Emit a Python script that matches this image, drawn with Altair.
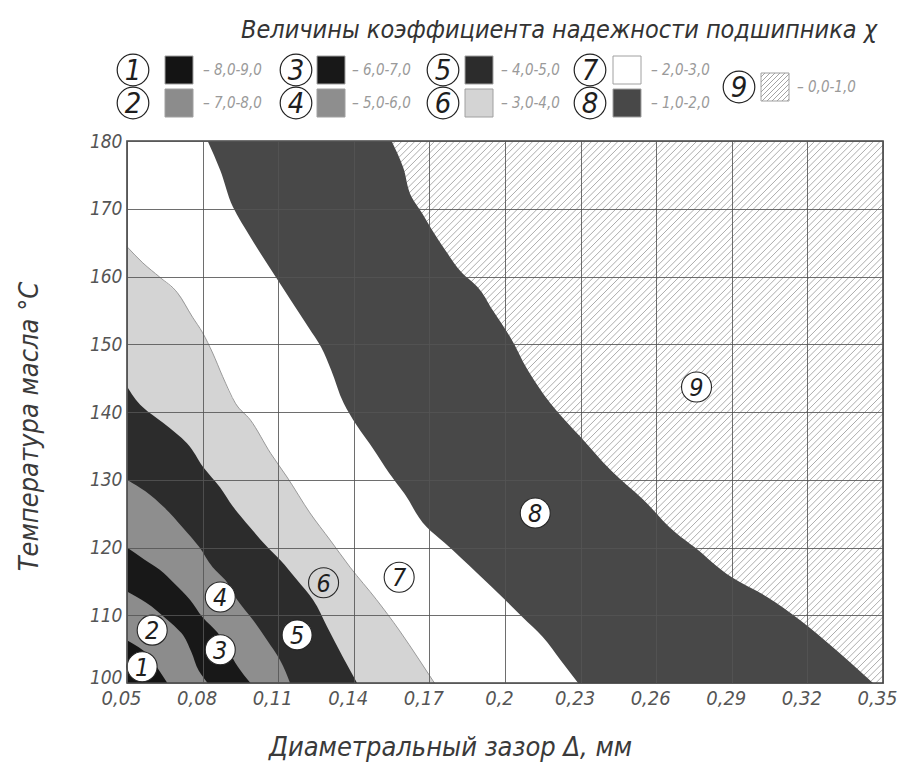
import altair as alt
import pandas as pd

# ------------------------------------------------------------------ data
CLEARANCE_TICKS = [0.05, 0.08, 0.11, 0.14, 0.17, 0.2, 0.23, 0.26, 0.29, 0.32, 0.35]
TEMP_TICKS = [100, 110, 120, 130, 140, 150, 160, 170, 180]

ZONE_IDS = [1, 2, 3, 4, 5, 6, 7, 8, 9]
ZONE_RANGES = ["8,0-9,0", "7,0-8,0", "6,0-7,0", "5,0-6,0", "4,0-5,0",
               "3,0-4,0", "2,0-3,0", "1,0-2,0", "0,0-1,0"]
ZONE_COLORS = ["#141414", "#8c8c8c", "#181818", "#8e8e8e", "#2c2c2c",
               "#d4d4d4", "#ffffff", "#484848", "#ffffff"]

# boundary between zone k and zone k+1 : temperature (°C) -> clearance (mm)
B12_T = [100, 102.0, 104.2, 106.3]
B12_X = [0.066, 0.0625, 0.0585, 0.05]

B23_T = [100, 101.8, 104.6, 107.4, 109.5, 111.9, 113.5]
B23_X = [0.082, 0.0785, 0.0755, 0.0715, 0.0655, 0.0575, 0.05]

B34_T = [100, 102.4, 105.0, 107.4, 109.7, 112.3, 114.8, 116.7, 118.2, 120.0]
B34_X = [0.099, 0.094, 0.090, 0.086, 0.080, 0.075, 0.0685, 0.063, 0.057, 0.05]

B45_T = [100, 103.4, 106.3, 109.3, 112.3, 115.2, 117.1, 120.1, 123.0, 126.0, 128.3, 130.0]
B45_X = [0.1147, 0.1107, 0.1056, 0.1000, 0.0937, 0.0890, 0.0840, 0.0786, 0.0720,
         0.0645, 0.0573, 0.05]

B56_T = [100, 103.8, 108.3, 112.3, 115.2, 118.2, 120.1, 123.0, 126.0, 128.9, 131.9,
         135.4, 138.4, 140.7, 143.8]
B56_X = [0.1413, 0.1357, 0.1294, 0.1238, 0.1175, 0.1107, 0.1056, 0.0988, 0.0921,
         0.0869, 0.0802, 0.0738, 0.0643, 0.0563, 0.05]

B67_T = [100, 103.4, 107.8, 112.3, 117.1, 121.1, 125.1, 130.4, 133.9, 138.8, 141.3,
         145.2, 148.7, 151.7, 154.0, 157.6, 159.9, 162.0, 164.4]
B67_X = [0.172, 0.166, 0.158, 0.149, 0.1385, 0.1306, 0.1226, 0.1135, 0.107, 0.099,
         0.093, 0.088, 0.084, 0.080, 0.076, 0.070, 0.063, 0.0563, 0.05]

B78_T = [100, 103.4, 106.8, 109.7, 112.3, 116.2, 120.7, 123.0, 128.0, 131.0, 134.4,
         138.1, 141.3, 146.2, 149.6, 152.5, 156.5, 160.5, 165.8, 170.3, 175.7, 180]
B78_X = [0.229, 0.222, 0.215, 0.207, 0.200, 0.189, 0.176, 0.169, 0.160, 0.154, 0.148,
         0.141, 0.136, 0.131, 0.127, 0.122, 0.115, 0.108, 0.099, 0.092, 0.087, 0.082]

B89_T = [100, 105.3, 109.3, 112.7, 115.6, 120.1, 122.1, 127.0, 131.4, 136.3, 141.3,
         146.2, 151.1, 155.1, 158.5, 160.5, 163.5, 166.9, 169.4, 171.7, 176.2, 180]
B89_X = [0.346, 0.330, 0.317, 0.304, 0.290, 0.275, 0.268, 0.255, 0.242, 0.230, 0.218,
         0.209, 0.202, 0.195, 0.189, 0.183, 0.177, 0.171, 0.167, 0.163, 0.1595, 0.155]

# zone number markers inside the plot
MARK_X = [0.056, 0.060, 0.087, 0.087, 0.1175, 0.128, 0.158, 0.212, 0.276]
MARK_T = [102.4, 107.8, 104.9, 112.7, 107.1, 114.8, 115.6, 125.1, 143.7]

TITLE = "Величины коэффициента надежности подшипника χ"
X_TITLE = "Диаметральный зазор Δ, мм"
Y_TITLE = "Температура масла °C"

# ------------------------------------------------------------------ layout / style
W, H = 756, 542
FONT = "'Liberation Sans Narrow', 'DejaVu Sans Condensed', 'Roboto Condensed', 'Liberation Sans', sans-serif"
XMIN, XMAX, TMIN, TMAX = 0.05, 0.35, 100, 180

xs = alt.Scale(domain=[XMIN, XMAX], nice=False, zero=False)
ys = alt.Scale(domain=[TMIN, TMAX], nice=False, zero=False)

X_AXIS = alt.Axis(
    values=CLEARANCE_TICKS, grid=True, gridColor="#555555", gridWidth=1,
    gridOpacity=0.85, domain=False, ticks=False, zindex=1,
    labelExpr="replace(format(datum.value, '.2~f'), '.', ',')",
    labelFont=FONT, labelFontStyle="italic", labelFontSize=20, labelColor="#555555",
    labelPadding=5, labelOffset=-6, labelFlush=False, labelOverlap=False, labelBound=False,
    title=X_TITLE, titleFont=FONT, titleFontStyle="italic", titleFontWeight="normal",
    titleFontSize=27, titleColor="#3a3a3a", titleX=323, titleY=72,
    titleAnchor="middle", titleAlign="center", titleBaseline="alphabetic")
Y_AXIS = alt.Axis(
    values=TEMP_TICKS, grid=True, gridColor="#555555", gridWidth=1,
    gridOpacity=0.85, domain=False, ticks=False, zindex=1,
    labelFont=FONT, labelFontStyle="italic", labelFontSize=19, labelColor="#555555",
    labelPadding=5, labelFlush=False, labelOverlap=False, labelBound=False,
    labelBaseline={"condition": {"test": "datum.value <= 100", "value": "alphabetic"},
                   "value": "middle"},
    title=Y_TITLE, titleFont=FONT, titleFontStyle="italic", titleFontWeight="normal",
    titleFontSize=27, titleColor="#3a3a3a", titleX=-98, titleY=285,
    titleAngle=270, titleAlign="center", titleBaseline="middle")


def xe(field):
    return alt.X(field, scale=xs, axis=X_AXIS)


def ye(field):
    return alt.Y(field, scale=ys, axis=Y_AXIS)


boundaries = {1: (B12_T, B12_X), 2: (B23_T, B23_X), 3: (B34_T, B34_X),
              4: (B45_T, B45_X), 5: (B56_T, B56_X), 6: (B67_T, B67_X),
              7: (B78_T, B78_X), 8: (B89_T, B89_X)}

layers = []

# hatching of zone 9 (45 degree lines over the whole frame, covered by the zones)
slope = (H / W) * (XMAX - XMIN)
step = 0.0026
hatch_rows = []
x0 = XMIN - slope
while x0 < XMAX:
    hatch_rows.append({"xa": x0, "ta": TMIN, "xb": x0 + slope, "tb": TMAX})
    x0 += step
hatch = alt.Chart(pd.DataFrame(hatch_rows)).mark_rule(
    clip=True, color="#a3a3a3", strokeWidth=0.9).encode(
    x=xe("xa:Q"), x2="xb:Q", y=ye("ta:Q"), y2="tb:Q")
layers.append(hatch)

# zones, painted from the outermost boundary inwards
for k in [8, 7, 6, 5, 4, 3, 2, 1]:
    T, X = boundaries[k]
    df = pd.DataFrame({"T": T, "X": X, "X0": [XMIN] * len(T)})
    layers.append(
        alt.Chart(df).mark_area(orient="horizontal", interpolate="monotone",
                                color=ZONE_COLORS[k - 1], opacity=1, clip=True).encode(
            y=ye("T:Q"), x=xe("X:Q"), x2="X0:Q"))

# thin grey edge between zones 6 and 7
df67 = pd.DataFrame({"T": B67_T, "X": B67_X})
layers.append(alt.Chart(df67).mark_line(orient="horizontal", interpolate="monotone",
                                        color="#9a9a9a", strokeWidth=1).encode(
    y=ye("T:Q"), x=xe("X:Q"), order="T:Q"))

# frame
frame = alt.Chart(pd.DataFrame({"a": [0]})).mark_rect(
    fill=None, stroke="#444444", strokeWidth=1.6).encode(
    x=alt.value(0), x2=alt.value(W), y=alt.value(0), y2=alt.value(H))
layers.append(frame)

# zone markers in the plot
marks = pd.DataFrame({"X": MARK_X, "T": MARK_T, "id": ZONE_IDS})
filled_ids = [1, 2, 3, 4, 5, 7, 8, 9]
m_fill = alt.Chart(marks).transform_filter(
    alt.FieldOneOfPredicate(field="id", oneOf=filled_ids)).mark_point(
    shape="circle", filled=True, fill="white", stroke="#262626", strokeWidth=1.1,
    size=900, opacity=1).encode(x=xe("X:Q"), y=ye("T:Q"))
m_open = alt.Chart(marks).transform_filter(
    alt.FieldOneOfPredicate(field="id", oneOf=[6])).mark_point(
    shape="circle", filled=False, stroke="#262626", strokeWidth=1.1, size=900,
    opacity=1).encode(x=xe("X:Q"), y=ye("T:Q"))
m_text = alt.Chart(marks).mark_text(
    font=FONT, fontStyle="italic", fontSize=25, color="#1e1e1e", baseline="middle",
    align="center", dy=1).encode(x=xe("X:Q"), y=ye("T:Q"), text="id:N")
layers += [m_fill, m_open, m_text]

# ------------------------------------------------------------------ legend (above the plot)
COL_CIRCLE = [6, 169, 316, 463]
COL_SWATCH = [52, 204, 352, 500]
COL_TEXT = [76, 225, 374, 524]
ROW_Y = [-71, -38]
SW = 28

leg_rows = []
for i, zid in enumerate(ZONE_IDS):
    if zid <= 8:
        c, r = (zid - 1) // 2, (zid - 1) % 2
        cx, sx, tx, yy = COL_CIRCLE[c], COL_SWATCH[c], COL_TEXT[c], ROW_Y[r]
    else:
        cx, sx, tx, yy = 612, 648, 670, -54
    leg_rows.append({"id": zid, "cx": cx, "sx": sx, "tx": tx, "yy": yy,
                     "lab": "– " + ZONE_RANGES[i], "col": ZONE_COLORS[i]})
leg = pd.DataFrame(leg_rows)

leg_circ = alt.Chart(leg).mark_point(shape="circle", filled=False, stroke="#222222",
                                     strokeWidth=1.2, size=1000, opacity=1).encode(
    x=alt.X("cx:Q", scale=None), y=alt.Y("yy:Q", scale=None))
leg_num = alt.Chart(leg).mark_text(font=FONT, fontStyle="italic", fontSize=29,
                                   color="#1e1e1e", baseline="middle", dy=1).encode(
    x=alt.X("cx:Q", scale=None), y=alt.Y("yy:Q", scale=None), text="id:N")
leg_sw = alt.Chart(leg).mark_point(shape="square", filled=True, size=SW * SW,
                                   stroke="#a0a0a0", strokeWidth=1, opacity=1).encode(
    x=alt.X("sx:Q", scale=None), y=alt.Y("yy:Q", scale=None),
    fill=alt.Fill("col:N", scale=None))
leg_txt = alt.Chart(leg).mark_text(font=FONT, fontStyle="italic", fontSize=15,
                                   color="#9a9a9a", align="left", baseline="middle").encode(
    x=alt.X("tx:Q", scale=None), y=alt.Y("yy:Q", scale=None), text="lab:N")

# hatch inside the legend swatch of zone 9
sx9, sy9 = 648 - SW / 2, -54 - SW / 2
hrows = []
c = sx9 + sy9 + 4
while c < sx9 + sy9 + 2 * SW:
    xa = max(sx9, c - (sy9 + SW))
    xb = min(sx9 + SW, c - sy9)
    if xb > xa:
        hrows.append({"xa": xa, "ya": c - xa, "xb": xb, "yb": c - xb})
    c += 5
leg_hatch = alt.Chart(pd.DataFrame(hrows)).mark_rule(color="#9a9a9a", strokeWidth=0.9).encode(
    x=alt.X("xa:Q", scale=None), y=alt.Y("ya:Q", scale=None),
    x2="xb:Q", y2="yb:Q")

title = alt.Chart(pd.DataFrame({"t": [TITLE]})).mark_text(
    font=FONT, fontStyle="italic", fontSize=25, color="#333333", align="center",
    baseline="alphabetic").encode(
    x=alt.value(432), y=alt.value(-103), text="t:N")

layers += [leg_sw, leg_hatch, leg_circ, leg_num, leg_txt, title]

chart = alt.layer(*layers).properties(
    width=W, height=H, autosize=alt.AutoSizeParams(type="none"),
    padding={"left": 127, "top": 141, "right": 14, "bottom": 82},
    background="white"
).configure_view(stroke=None)

chart.save("out.html", embed_options={"renderer": "svg", "actions": False})
